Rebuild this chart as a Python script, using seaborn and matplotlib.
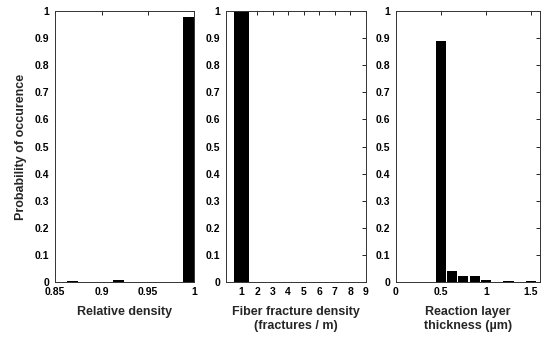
import matplotlib
matplotlib.use("Agg")
import matplotlib.pyplot as plt
import seaborn as sns
import numpy as np

# ---- data ----
density_x = [0.868, 0.918, 0.994]
density_p = [0.002, 0.007, 0.98]

fracture_x = [1]
fracture_p = [1.0]

layer_x = [0.5, 0.625, 0.75, 0.875, 1.0, 1.25, 1.5]
layer_p = [0.89, 0.04, 0.02, 0.02, 0.008, 0.003, 0.004]

y_ticks = [0, 0.1, 0.2, 0.3, 0.4, 0.5, 0.6, 0.7, 0.8, 0.9, 1]
y_ticklabels = ["0", "0.1", "0.2", "0.3", "0.4", "0.5", "0.6", "0.7", "0.8", "0.9", "1"]

sns.set_style("white")
plt.rcParams['font.family'] = ['Liberation Sans', 'DejaVu Sans']
plt.rcParams['font.weight'] = 'bold'

fig = plt.figure(figsize=(5.46, 3.38), dpi=100)
axes = [
    fig.add_axes([0.101, 0.166, 0.255, 0.801]),
    fig.add_axes([0.414, 0.166, 0.256, 0.801]),
    fig.add_axes([0.725, 0.166, 0.264, 0.801]),
]

panels = [
    dict(x=density_x, p=density_p, bw=0.0125, br=(0.85, 1.0), xlim=(0.85, 1.0),
         xticks=[0.85, 0.9, 0.95, 1], xtl=["0.85", "0.9", "0.95", "1"],
         xlabel="Relative density", shrink=0.95),
    dict(x=fracture_x, p=fracture_p, bw=1, br=(0.5, 9.5), xlim=(0, 9),
         xticks=list(range(1, 10)), xtl=[str(i) for i in range(1, 10)],
         xlabel="Fiber fracture density\n(fractures / m)", shrink=0.95),
    dict(x=layer_x, p=layer_p, bw=0.125, br=(0.4375, 1.6875), xlim=(0, 1.6),
         xticks=[0, 0.5, 1, 1.5], xtl=["0", "0.5", "1", "1.5"],
         xlabel="Reaction layer\nthickness (\u00b5m)", shrink=0.9),
]

for ax, pd_ in zip(axes, panels):
    sns.histplot(x=pd_["x"], weights=pd_["p"], binwidth=pd_["bw"], binrange=pd_["br"],
                 color="black", alpha=1, edgecolor="black", linewidth=0,
                 shrink=pd_["shrink"], ax=ax)
    ax.set_xlim(*pd_["xlim"])
    ax.set_ylim(0, 1)
    ax.set_xticks(pd_["xticks"])
    ax.set_xticklabels(pd_["xtl"], fontweight="bold")
    ax.set_yticks(y_ticks)
    ax.set_yticklabels(y_ticklabels, fontweight="bold")
    ax.set_ylabel("")
    ax.set_xlabel(pd_["xlabel"], fontsize=9, labelpad=6, fontweight="bold")
    ax.tick_params(direction="in", top=True, right=True, length=3, width=0.6,
                   labelsize=7.5, colors="black", pad=4)
    for s in ax.spines.values():
        s.set_visible(True)
        s.set_color("#333333")
        s.set_linewidth(0.7)

axes[0].set_ylabel("Probability of occurence", fontsize=9, labelpad=6, fontweight="bold")

fig.savefig("out.png", dpi=100)
